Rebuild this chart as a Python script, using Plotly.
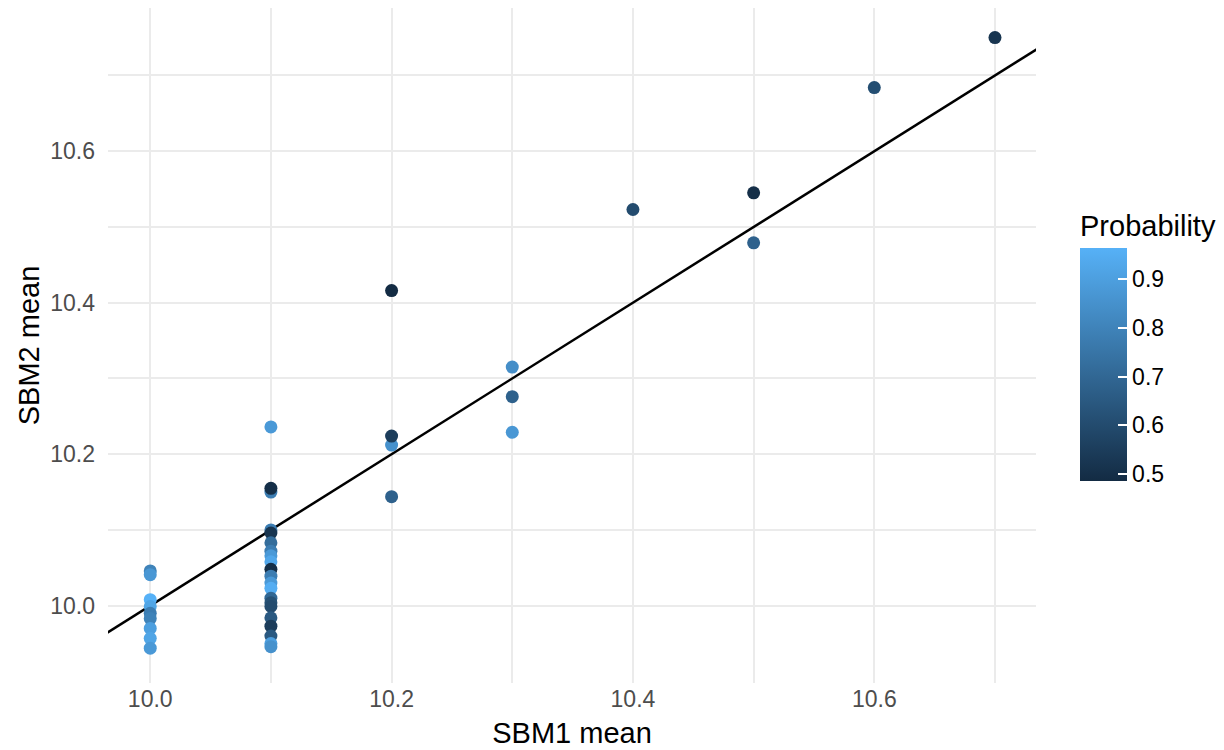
import numpy as np
import plotly.graph_objects as go

# SBM1 / SBM2 means with the probability used for colouring
sbm1_mean = [
    10.0, 10.0, 10.0, 10.0, 10.0, 10.0, 10.0, 10.0, 10.0,
    10.1, 10.1, 10.1, 10.1, 10.1, 10.1, 10.1, 10.1, 10.1, 10.1,
    10.1, 10.1, 10.1, 10.1, 10.1, 10.1, 10.1, 10.1, 10.1, 10.1, 10.1,
    10.2, 10.2, 10.2, 10.2,
    10.3, 10.3, 10.3,
    10.4,
    10.5, 10.5,
    10.6,
    10.7,
]
sbm2_mean = [
    10.046, 10.041, 10.008, 9.999, 9.990, 9.983, 9.970, 9.957, 9.944,
    10.236, 10.150, 10.155, 10.100, 10.096, 10.083, 10.072, 10.066, 10.058, 10.048,
    10.039, 10.030, 10.023, 10.010, 10.004, 9.999, 9.984, 9.973, 9.960, 9.950, 9.946,
    10.416, 10.212, 10.224, 10.144,
    10.315, 10.276, 10.229,
    10.523,
    10.479, 10.545,
    10.684,
    10.750,
]
probability = [
    0.80, 0.87, 0.964, 0.92, 0.78, 0.80, 0.90, 0.92, 0.88,
    0.88, 0.78, 0.50, 0.78, 0.52, 0.72, 0.78, 0.88, 0.93, 0.50,
    0.78, 0.88, 0.95, 0.70, 0.62, 0.60, 0.65, 0.55, 0.65, 0.90, 0.85,
    0.486, 0.85, 0.55, 0.68,
    0.84, 0.68, 0.87,
    0.60,
    0.68, 0.50,
    0.61,
    0.52,
]

x_ticks = [10.0, 10.2, 10.4, 10.6]
y_ticks = [10.0, 10.2, 10.4, 10.6]
minor_ticks = [10.1, 10.3, 10.5, 10.7]
cbar_ticks = [0.5, 0.6, 0.7, 0.8, 0.9]

x_range = [9.965, 10.734]
y_range = [9.898, 10.789]

# figure / panel geometry (pixels)
W, H = 1224, 750
M_L, M_R, M_T, M_B = 108, 188, 8, 67
panel_w = W - M_L - M_R
panel_h = H - M_T - M_B

tick_color = "#4D4D4D"
grid_color = "#EBEBEB"
font_family = "Liberation Sans, Arial, sans-serif"
nbsp = "\u00a0"

fig = go.Figure()

# identity line y = x
line_x = [9.8, 10.9]
fig.add_trace(go.Scatter(
    x=line_x, y=line_x, mode="lines",
    line=dict(color="black", width=2.5),
    hoverinfo="skip", showlegend=False,
))

fig.add_trace(go.Scatter(
    x=sbm1_mean, y=sbm2_mean, mode="markers",
    marker=dict(
        size=13,
        color=probability,
        colorscale=[[0, "#132B43"], [1, "#56B1F7"]],
        cmin=min(probability), cmax=max(probability),
        line=dict(width=0),
        opacity=1,
        colorbar=dict(
            title=dict(text="Probability", side="top",
                       font=dict(size=29, color="black", family=font_family)),
            xref="paper", yref="paper",
            x=(1080 - M_L) / panel_w, xanchor="left",
            y=(H - M_B - 481) / panel_h, yanchor="bottom",
            len=270, lenmode="pixels",
            thickness=47, thicknessmode="pixels",
            outlinewidth=0, xpad=0, ypad=0,
            tickvals=cbar_ticks,
            ticktext=[f"{v:.1f}" for v in cbar_ticks],
            tickprefix=nbsp * 2,
            ticks="inside", ticklen=9, tickcolor="white", tickwidth=1.5,
            tickfont=dict(size=23, color="black", family=font_family),
        ),
    ),
    showlegend=False,
    hovertemplate="SBM1 mean: %{x}<br>SBM2 mean: %{y}<extra></extra>",
))

fig.update_layout(
    width=W, height=H,
    margin=dict(l=M_L, r=M_R, t=M_T, b=M_B, autoexpand=False),
    paper_bgcolor="white", plot_bgcolor="white",
    font=dict(family=font_family),
    xaxis=dict(
        range=x_range, tickvals=x_ticks,
        ticktext=[f"{v:.1f}" for v in x_ticks],
        tickfont=dict(size=23, color=tick_color),
        showgrid=True, gridcolor=grid_color, gridwidth=2,
        minor=dict(tickvals=minor_ticks, showgrid=True,
                   gridcolor=grid_color, gridwidth=1.5),
        zeroline=False, showline=False, ticks="", automargin=False,
        title=dict(text="SBM1 mean", font=dict(size=29, color="black"), standoff=11),
    ),
    yaxis=dict(
        range=y_range, tickvals=y_ticks,
        ticktext=[f"{v:.1f}" for v in y_ticks],
        tickfont=dict(size=23, color=tick_color),
        ticklabelstandoff=12,
        showgrid=True, gridcolor=grid_color, gridwidth=2,
        minor=dict(tickvals=minor_ticks, showgrid=True,
                   gridcolor=grid_color, gridwidth=1.5),
        zeroline=False, showline=False, ticks="", automargin=False,
        title=dict(text="SBM2 mean", font=dict(size=29, color="black"), standoff=2),
    ),
)

fig.write_html("out.html")
